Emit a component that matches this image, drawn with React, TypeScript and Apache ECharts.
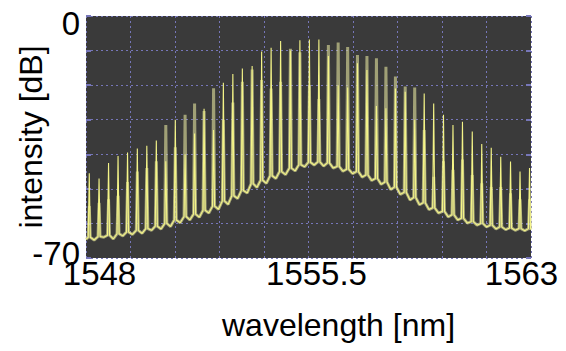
import React, { useEffect, useRef } from "react";
import * as echarts from "echarts";

// Comb line positions (nm)
const combLines = [
  1548.11, 1548.44, 1548.76, 1549.08, 1549.4, 1549.73, 1550.05, 1550.37, 1550.69, 1551.01,
  1551.34, 1551.66, 1551.98, 1552.3, 1552.63, 1552.95, 1553.27, 1553.6, 1553.92, 1554.24,
  1554.56, 1554.89, 1555.21, 1555.53, 1555.85, 1556.17, 1556.5, 1556.82, 1557.15, 1557.47,
  1557.79, 1558.11, 1558.43, 1558.76, 1559.08, 1559.4, 1559.72, 1560.05, 1560.37, 1560.69,
  1561.02, 1561.34, 1561.66, 1561.98, 1562.31, 1562.63, 1562.95,
];

// Peak levels of the bright trace (dB)
const brightPeaks = [
  -45.5, -47, -42.5, -40.5, -39.5, -38.3, -37.5, -36, -42, -30,
  -40, -34, -26.8, -33, -19.3, -16.8, -15.2, -14.5, -10.3, -9.2,
  -7.2, -10, -7, -6.8, -6.8, -11.6, -20, -20.7, -13.7, -15.6,
  -26, -26.7, -21, -21.9, -30, -22.4, -25.3, -28.6, -31.5, -30.6,
  -33.4, -37, -38.1, -40.7, -42.1, -45, -44,
];

// Peak levels of the dim trace (dB)
const dimPeaks = [
  -55, -54, -53, -52, -48, -45, -44, -42, -31.5, -38,
  -28.6, -25.3, -27.5, -20.9, -30, -25, -19, -15.5, -18.5, -21,
  -19, -9.5, -10.5, -20, -24, -8.4, -7.7, -9, -11.3, -11.6,
  -12.2, -14.7, -17.5, -20.4, -20.7, -33, -46.5, -42, -44.5, -41.5,
  -46, -48.4, -49.5, -49.5, -51.3, -53, -53,
];

// Noise floor at the foot of each comb line (dB)
const footLevels = [
  -64, -63.8, -63.4, -63, -62.5, -62, -61.5, -60.8, -60, -59,
  -58, -57.3, -56.2, -55, -53.5, -52, -50.5, -48.5, -47.5, -46.2,
  -45, -44, -43, -42.3, -42.2, -42.5, -43.5, -44.3, -45, -46,
  -47, -48, -49.5, -51, -52.5, -54, -55.5, -56.5, -57.5, -58.5,
  -59.5, -60, -60.5, -61, -61.3, -61.5, -61.5,
];

// Noise floor between neighbouring comb lines (dB)
const troughLevels = [
  -64.8, -64, -64.5, -63.6, -63.2, -62.9, -62, -61.6, -60.9, -59.8,
  -59, -58.2, -57, -55.9, -54.5, -52.8, -51.2, -49.6, -48.4, -47,
  -45.9, -44.8, -43.6, -43.1, -43.4, -44, -44.9, -45.6, -46.6, -47.6,
  -48.7, -50.2, -51.6, -53.2, -54.6, -56, -57, -58.1, -59, -59.9,
  -60.5, -61, -61.6, -61.8, -62, -62.1,
];

const spectrumStart: [number, number] = [1548, -64.6];
const spectrumEnd: [number, number] = [1563, -61.8];

const xTickLabels = [1548, 1555.5, 1563];
const yTickLabels = [0, -70];

const LINE_HALF_WIDTH = 0.035; // nm, half width of each comb line foot

function buildTrace(peaks: number[]): [number, number][] {
  const pts: [number, number][] = [spectrumStart];
  for (let i = 0; i < combLines.length; i++) {
    const lam = combLines[i];
    pts.push([lam - LINE_HALF_WIDTH, footLevels[i]]);
    pts.push([lam, peaks[i]]);
    pts.push([lam + LINE_HALF_WIDTH, footLevels[i]]);
    if (i < combLines.length - 1) {
      pts.push([(lam + combLines[i + 1]) / 2, troughLevels[i]]);
    }
  }
  pts.push(spectrumEnd);
  return pts;
}

const FONT = "'Liberation Sans', Arial, sans-serif";
const GRID_COLOR = "#7676b8";

export default function App() {
  const ref = useRef<HTMLDivElement>(null);

  useEffect(() => {
    if (!ref.current) return;
    const chart = echarts.init(ref.current, undefined, { renderer: "svg" });

    const labelText = { fontSize: 32, color: "#000", fontFamily: FONT };
    const tickText = { fontSize: 33, color: "#000", fontFamily: FONT };

    chart.setOption({
      animation: false,
      grid: {
        left: 86,
        top: 16,
        width: 445,
        height: 242,
        show: true,
        backgroundColor: "#3a3a3a",
        borderWidth: 0,
        containLabel: false,
        outerBoundsMode: "none",
      },
      xAxis: {
        type: "value",
        min: 1548,
        max: 1563,
        interval: 1.5,
        name: "wavelength [nm]",
        nameLocation: "middle",
        nameGap: 51,
        nameMoveOverlap: false,
        nameTextStyle: { ...labelText, padding: [0, 0, 0, 60] },
        axisLine: { show: false },
        axisTick: { show: false },
        axisLabel: {
          margin: -1,
          ...tickText,
          formatter: (v: number) => {
            const idx = xTickLabels.findIndex((t) => Math.abs(t - v) < 1e-6);
            if (idx < 0) return "";
            return `{x${idx}|${xTickLabels[idx]}}`;
          },
          rich: {
            x0: { ...tickText, padding: [0, 0, 0, 27] },
            x1: { ...tickText, padding: [0, 0, 0, 16] },
            x2: { ...tickText, padding: [0, 19, 0, 0] },
          },
        },
        splitLine: {
          show: true,
          lineStyle: { color: GRID_COLOR, width: 1, type: [2, 3] },
        },
      },
      yAxis: [
        {
          type: "value",
          min: -70,
          max: 0,
          interval: 10,
          name: "intensity [dB]",
          nameLocation: "middle",
          nameGap: 39,
          nameMoveOverlap: false,
          nameTextStyle: labelText,
          axisLine: { show: false },
          axisTick: {
            show: true,
            inside: true,
            length: 5,
            lineStyle: { color: GRID_COLOR, width: 2 },
          },
          axisLabel: {
            margin: 6,
            ...tickText,
            formatter: (v: number) => {
              const idx = yTickLabels.findIndex((t) => Math.abs(t - v) < 1e-6);
              if (idx < 0) return "";
              return `{y${idx}|${yTickLabels[idx]}}`;
            },
            rich: {
              y0: { ...tickText, padding: [15, 0, 0, 0] },
              y1: { ...tickText, padding: [0, 0, 10, 0] },
            },
          },
          splitLine: {
            show: true,
            lineStyle: { color: GRID_COLOR, width: 1, type: [2, 3] },
          },
        },
        {
          type: "value",
          position: "right",
          min: -70,
          max: 0,
          interval: 10,
          axisLine: { show: false },
          axisTick: {
            show: true,
            inside: true,
            length: 5,
            lineStyle: { color: GRID_COLOR, width: 2 },
          },
          axisLabel: { show: false },
          splitLine: { show: false },
        },
      ],
      series: [
        {
          type: "line",
          data: buildTrace(dimPeaks),
          showSymbol: false,
          silent: true,
          lineStyle: { color: "rgba(215,215,150,0.65)", width: 3, join: "bevel" },
        },
        {
          type: "line",
          data: buildTrace(brightPeaks),
          showSymbol: false,
          silent: true,
          lineStyle: { color: "#f4f488", width: 1.1, join: "bevel" },
        },
      ],
    });

    return () => chart.dispose();
  }, []);

  return (
    <div
      ref={ref}
      style={{ position: "fixed", left: 0, top: 0, width: 566, height: 351, background: "#fff" }}
    />
  );
}
